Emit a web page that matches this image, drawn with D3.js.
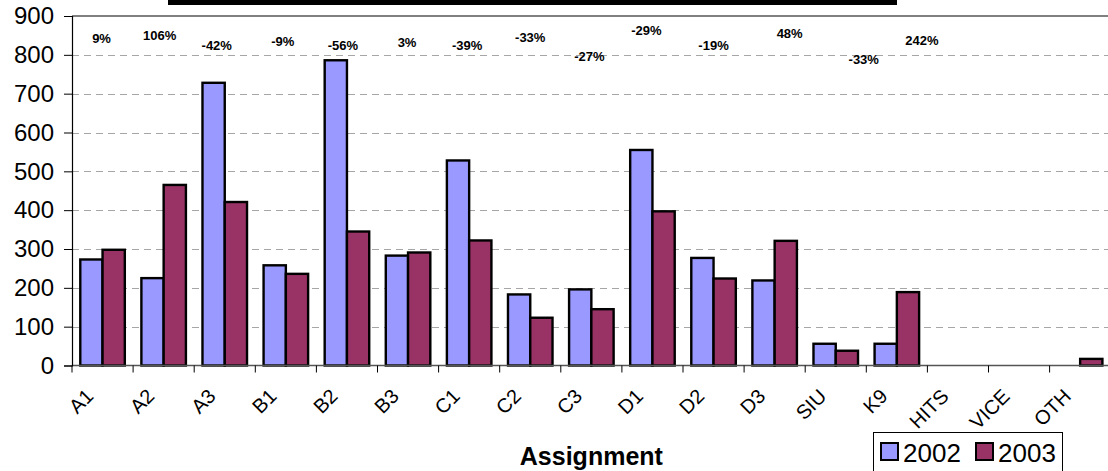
<!DOCTYPE html>
<html>
<head>
<meta charset="utf-8">
<script src="https://cdn.jsdelivr.net/npm/d3@7"></script>
<style>
  body { margin: 0; background: #fff; }
  svg { display: block; font-family: "Liberation Sans", Arial, sans-serif; }
</style>
</head>
<body>
<svg id="chart" width="1108" height="471"></svg>
<script>

// Chart data
var categories = ["A1","A2","A3","B1","B2","B3","C1","C2","C3","D1","D2","D3","SIU","K9","HITS","VICE","OTH"];
var years = ["2002","2003"];
var values2002 = [273, 225, 728, 258, 786, 283, 528, 183, 196, 555, 277, 219, 56, 56, 0, 0, 0];
var values2003 = [298, 465, 421, 236, 345, 291, 322, 123, 145, 397, 224, 321, 38, 189, 0, 0, 17];
var changeLabels = ["9%","106%","-42%","-9%","-56%","3%","-39%","-33%","-27%","-29%","-19%","48%","-33%","242%"];
var yTicks = [0,100,200,300,400,500,600,700,800,900];

// Hand-placed annotation positions (x offset in px from category centre, y in axis units)
var labelDx = [-1, -4, -8, -3, -4, -1, -2, 0, -2, -6, 0, 15, 28, 25];
var labelDy = [840, 846, 822, 832, 822, 830, 822, 842, 793, 860, 822, 852, 784, 834];

var colors = { "2002": "#9999ff", "2003": "#993366" };

var svg = d3.select("#chart");
var margin = { left: 72, top: 16 };
var plotW = 61.1 * categories.length;
var zeroY = 365.5;

var x = d3.scaleBand().domain(categories).range([margin.left, margin.left + plotW]);
var y = d3.scaleLinear().domain([0, 900]).range([zeroY, margin.top]);
var x1 = d3.scaleBand().domain(years).range([0, x.bandwidth()]).paddingInner(0).paddingOuter(0.372);

// Title bar (cropped off at the top)
svg.append("rect").attr("x", 168).attr("y", -10).attr("width", 729).attr("height", 15).attr("fill", "#000");

// Gridlines
svg.append("g").selectAll("line")
   .data(yTicks.filter(function(d){ return d > 0 && d < 900; }))
   .enter().append("line")
   .attr("x1", margin.left).attr("x2", margin.left + plotW)
   .attr("y1", function(d){ return Math.round(y(d)) + 0.5; })
   .attr("y2", function(d){ return Math.round(y(d)) + 0.5; })
   .attr("stroke", "#a6a6a6").attr("stroke-width", 1)
   .attr("stroke-dasharray", "7,5");

// Top border (900)
svg.append("line")
   .attr("x1", margin.left).attr("x2", margin.left + plotW)
   .attr("y1", y(900)).attr("y2", y(900))
   .attr("stroke", "#808080").attr("stroke-width", 2.2);

// Bars
var rows = categories.map(function(c, i){ return { cat: c, v: [values2002[i], values2003[i]] }; });
var groups = svg.append("g").selectAll("g")
   .data(rows).enter().append("g")
   .attr("transform", function(d){ return "translate(" + x(d.cat) + ",0)"; });

groups.selectAll("rect")
   .data(function(d){ return years.map(function(yr, k){ return { year: yr, value: d.v[k] }; }).filter(function(b){ return b.value > 0; }); })
   .enter().append("rect")
   .attr("x", function(d){ return x1(d.year); })
   .attr("width", x1.bandwidth())
   .attr("y", function(d){ return y(d.value); })
   .attr("height", function(d){ return zeroY - y(d.value); })
   .attr("fill", function(d){ return colors[d.year]; })
   .attr("stroke", "#000").attr("stroke-width", 2.4);

// Zero axis line
svg.append("line")
   .attr("x1", margin.left).attr("x2", margin.left + plotW)
   .attr("y1", zeroY).attr("y2", zeroY)
   .attr("stroke", "#555").attr("stroke-width", 1.3);

// Left axis
var yAxis = d3.axisLeft(y).tickValues(yTicks).tickSize(8).tickPadding(10).tickFormat(d3.format("d"));
var gy = svg.append("g").attr("transform", "translate(" + margin.left + ",0)").call(yAxis);
gy.select(".domain").attr("stroke", "#000").attr("stroke-width", 1.2);
gy.selectAll(".tick line").attr("stroke", "#000");
gy.selectAll(".tick text").attr("font-size", 24).attr("fill", "#000")
  .attr("font-family", "'Liberation Sans', Arial, sans-serif");

// Category tick marks (between groups)
svg.append("g").selectAll("line")
   .data(categories)
   .enter().append("line")
   .attr("x1", function(d){ return x(d); }).attr("x2", function(d){ return x(d); })
   .attr("y1", zeroY).attr("y2", zeroY + 7)
   .attr("stroke", "#000").attr("stroke-width", 1);

// Category labels
svg.append("g").selectAll("text")
   .data(categories)
   .enter().append("text")
   .attr("transform", function(d){ return "translate(" + (x(d) + x.bandwidth() / 2 - 8) + "," + (zeroY + 32) + ") rotate(-45)"; })
   .attr("text-anchor", "end")
   .attr("font-size", 20)
   .attr("fill", "#000")
   .text(function(d){ return d; });

// Change annotations
svg.append("g").selectAll("text")
   .data(changeLabels)
   .enter().append("text")
   .attr("x", function(d, i){ return x(categories[i]) + x.bandwidth() / 2 + labelDx[i]; })
   .attr("y", function(d, i){ return y(labelDy[i]); })
   .attr("text-anchor", "middle")
   .attr("dominant-baseline", "middle")
   .attr("font-size", 13).attr("font-weight", "bold")
   .attr("fill", "#000")
   .text(function(d){ return d; });

// Axis title
svg.append("text")
   .attr("x", margin.left + plotW / 2).attr("y", 465)
   .attr("text-anchor", "middle")
   .attr("font-size", 25).attr("font-weight", "bold")
   .text("Assignment");

// Legend
var legend = svg.append("g").attr("transform", "translate(873,432)");
legend.append("rect").attr("x", 0.5).attr("y", 0.5).attr("width", 189).attr("height", 45)
      .attr("fill", "#fff").attr("stroke", "#000").attr("stroke-width", 1);
var legendX = [8, 103];
years.forEach(function(yr, k){
  legend.append("rect").attr("x", legendX[k]).attr("y", 11).attr("width", 17).attr("height", 17)
        .attr("fill", colors[yr]).attr("stroke", "#000").attr("stroke-width", 2);
  legend.append("text").attr("x", legendX[k] + 22).attr("y", 29.5)
        .attr("font-size", 26).attr("fill", "#000").text(yr);
});

</script>
</body>
</html>
